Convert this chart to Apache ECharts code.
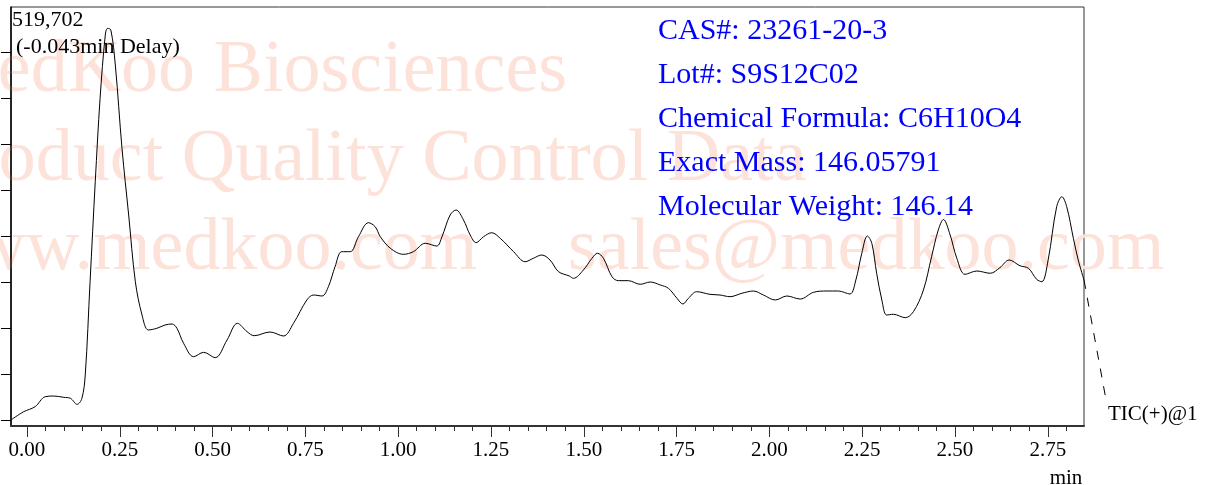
<!DOCTYPE html>
<html>
<head>
<meta charset="utf-8">
<script src="https://cdn.jsdelivr.net/npm/echarts@6/dist/echarts.min.js"></script>
<style>
  html, body { margin: 0; padding: 0; background: #fff; }
  #chart { width: 1209px; height: 485px; }
</style>
</head>
<body>
<div id="chart"></div>
<script>
// retention time (min)
var times = [-0.043, -0.009, 0.022, 0.049, 0.072, 0.099, 0.117, 0.135, 0.148, 0.157,
  0.170, 0.184, 0.197, 0.211, 0.217, 0.226, 0.238, 0.256, 0.274, 0.292,
  0.310, 0.327, 0.350, 0.372, 0.391, 0.404, 0.422, 0.449, 0.476, 0.507,
  0.539, 0.567, 0.593, 0.612, 0.655, 0.691, 0.718, 0.754, 0.772, 0.795,
  0.812, 0.830, 0.848, 0.871, 0.893, 0.920, 0.938, 0.952, 0.979, 1.014,
  1.041, 1.073, 1.104, 1.118, 1.140, 1.156, 1.176, 1.194, 1.210, 1.230,
  1.252, 1.275, 1.311, 1.342, 1.364, 1.387, 1.409, 1.432, 1.461, 1.472,
  1.499, 1.522, 1.537, 1.553, 1.576, 1.593, 1.620, 1.652, 1.679, 1.706,
  1.728, 1.751, 1.767, 1.782, 1.804, 1.840, 1.867, 1.894, 1.926, 1.957,
  1.984, 2.016, 2.047, 2.083, 2.119, 2.155, 2.186, 2.217, 2.233, 2.249,
  2.264, 2.276, 2.289, 2.303, 2.316, 2.334, 2.366, 2.388, 2.415, 2.437,
  2.455, 2.469, 2.487, 2.505, 2.527, 2.559, 2.595, 2.621, 2.646, 2.675,
  2.698, 2.720, 2.734, 2.751, 2.774, 2.788, 2.801, 2.819, 2.832, 2.8476];

// TIC intensity
var intensity = [1000, 11900, 18600, 31800, 32700, 31000, 29700, 21700, 29700, 60600,
  184100, 316600, 427100, 510900, 519702, 517500, 471200, 360800, 272500, 184100,
  140000, 120200, 122400, 126800, 128100, 122400, 102500, 84800, 90600, 83500,
  106900, 129000, 117900, 112600, 117500, 112200, 129000, 159900, 166500, 165200,
  177500, 204000, 223900, 223900, 243700, 262300, 257000, 243700, 228400, 220400,
  223900, 235000, 231400, 243700, 272500, 279100, 265900, 246000, 235800, 243700,
  249000, 241600, 223900, 210600, 215100, 219500, 212900, 197400, 191700, 188600,
  199600, 215100, 221800, 215100, 190800, 185500, 185500, 180700, 183700, 179800,
  175400, 162200, 154600, 162200, 170900, 167400, 166500, 164300, 168800, 171800,
  166500, 159900, 165200, 161200, 170100, 171800, 171800, 167800, 186400, 221800,
  244700, 235000, 195300, 159900, 140000, 141000, 136500, 144400, 173100, 217300,
  252600, 266500, 246000, 215100, 193900, 198300, 195300, 202700, 212900, 205300,
  201900, 187300, 184100, 212900, 283500, 296700, 283500, 241600, 212900, 186400];

// dashed trace leaving the window
var tailTimes = [2.8476, 2.908];
var tailIntensity = [186400, 24800];

var majorTicks = [0, 0.25, 0.5, 0.75, 1.0, 1.25, 1.5, 1.75, 2.0, 2.25, 2.5, 2.75];
var minorTicks = [];
for (var m = 0; m <= 56; m++) { minorTicks.push(+(m * 0.05).toFixed(2)); }
var yTicks = [0, 61000, 122000, 183000, 244000, 305000, 366000, 427000, 488000];

var infoLines = ['CAS#: 23261-20-3', 'Lot#: S9S12C02', 'Chemical Formula: C6H10O4',
  'Exact Mass: 146.05791', 'Molecular Weight: 146.14'];
var watermarkLines = ['MedKoo Biosciences', 'Product Quality Control Data',
  'www.medkoo.com', 'sales@medkoo.com'];

var serif = '"Liberation Serif", "Times New Roman", serif';
var xMin = -0.043, xMax = 2.8476;
var yMin = -7000, yMax = 548000;
// the tail grid is 25px wider than the plot, same px-per-minute
var xMaxWide = xMin + (xMax - xMin) * 1098 / 1073;

var mainData = times.map(function (t, i) { return [t, intensity[i]]; });
var tailData = tailTimes.map(function (t, i) { return [t, tailIntensity[i]]; });

var graphics = [];
// watermark
var wmPos = [[-68, 72], [-67, 161], [-81, 250], [568, 250]];
watermarkLines.forEach(function (txt, i) {
  graphics.push({
    type: 'text', z: 0, silent: true,
    x: wmPos[i][0], y: wmPos[i][1],
    style: { text: txt, font: '74px ' + serif, fill: '#fde2da', verticalAlign: 'middle' }
  });
});
// compound info
infoLines.forEach(function (txt, i) {
  graphics.push({
    type: 'text', z: 10,
    x: 658, y: 31 + i * 44,
    style: { text: txt, font: '30px ' + serif, fill: '#0000ff', verticalAlign: 'middle' }
  });
});
graphics.push(
  { type: 'text', z: 10, x: 12, y: 20, style: { text: '519,702', font: '22px ' + serif, fill: '#000', verticalAlign: 'middle' } },
  { type: 'text', z: 10, x: 16, y: 47, style: { text: '(-0.043min Delay)', font: '22px ' + serif, fill: '#000', verticalAlign: 'middle' } },
  { type: 'text', z: 10, x: 1066, y: 478, style: { text: 'min', font: '21px ' + serif, fill: '#000', align: 'center', verticalAlign: 'middle' } },
  { type: 'text', z: 10, x: 1108, y: 414, style: { text: 'TIC(+)@1', font: '21px ' + serif, fill: '#000', verticalAlign: 'middle' } }
);

var chart = echarts.init(document.getElementById('chart'));
var option = {
  backgroundColor: '#fff',
  animation: false,
  grid: [
    { left: 11, top: 7, right: 125, bottom: 59, show: true, borderColor: '#333', borderWidth: 1 },
    { left: 11, top: 7, right: 100, bottom: 59, show: false }
  ],
  xAxis: [
    {
      type: 'value', min: xMin, max: xMax,
      axisLine: { show: true, onZero: false, lineStyle: { color: '#333', width: 2 } },
      axisTick: { show: true, length: 5, customValues: minorTicks, lineStyle: { color: '#333' } },
      axisLabel: { show: false },
      splitLine: { show: false }
    },
    {
      type: 'value', min: xMin, max: xMax, position: 'bottom',
      axisLine: { show: false, onZero: false },
      axisTick: { show: true, length: 11, customValues: majorTicks, lineStyle: { color: '#333' } },
      axisLabel: {
        show: true, customValues: majorTicks, margin: 14,
        fontFamily: serif, fontSize: 21, color: '#000',
        formatter: function (v) { return v.toFixed(2); }
      },
      splitLine: { show: false }
    },
    {
      type: 'value', gridIndex: 1, min: xMin, max: xMaxWide, show: false
    }
  ],
  yAxis: [
    {
      type: 'value', min: yMin, max: yMax,
      axisLine: { show: true, onZero: false, lineStyle: { color: '#000', width: 1.5 } },
      axisTick: { show: true, length: 10, customValues: yTicks, lineStyle: { color: '#000' } },
      axisLabel: { show: false },
      splitLine: { show: false }
    },
    {
      type: 'value', gridIndex: 1, min: yMin, max: yMax, show: false
    }
  ],
  graphic: graphics,
  series: [
    {
      type: 'line', xAxisIndex: 0, yAxisIndex: 0, z: 5,
      data: mainData, showSymbol: false, smooth: 0.35,
      lineStyle: { color: '#000', width: 1 }
    },
    {
      type: 'line', xAxisIndex: 2, yAxisIndex: 1, z: 5,
      data: tailData, showSymbol: false,
      lineStyle: { color: '#000', width: 1, type: [9, 9] }
    }
  ]
};
chart.setOption(option);
</script>
</body>
</html>
